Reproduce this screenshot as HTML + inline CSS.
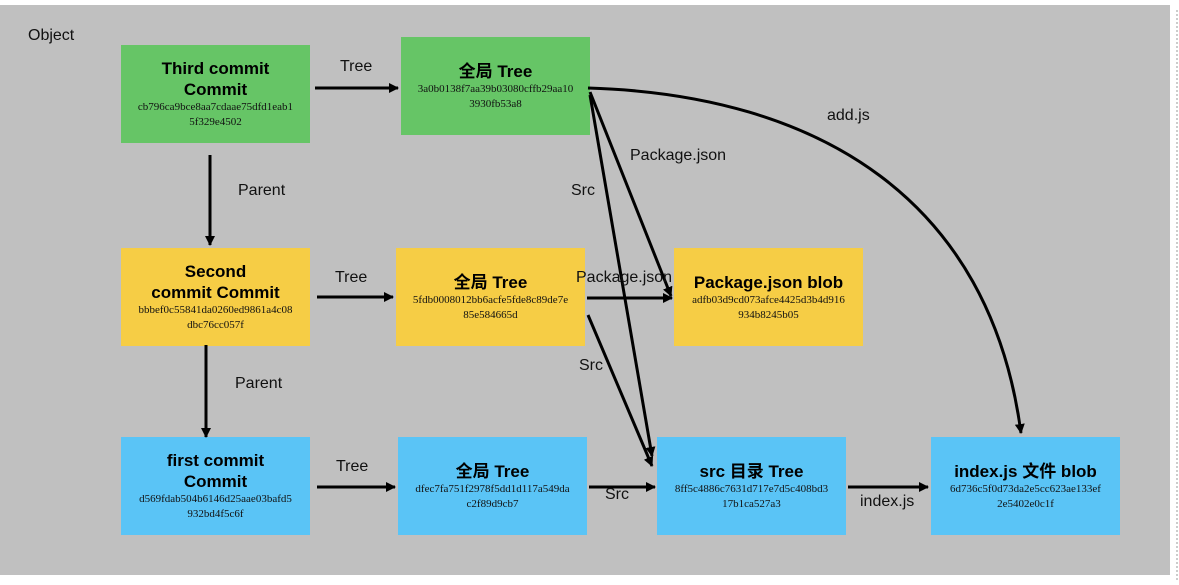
<!DOCTYPE html>
<html><head><meta charset="utf-8"><style>
body{margin:0;width:1179px;height:585px;background:#fff;position:relative;overflow:hidden;font-family:"Liberation Sans","Noto Sans CJK SC",sans-serif}
#bg{position:absolute;left:0;top:5px;width:1170px;height:570px;background:#c0c0c0}
.dots{position:absolute;left:1176px;top:10px;height:570px;border-left:2px dotted #ccc}
.b{position:absolute;width:189px;height:98px;display:flex;flex-direction:column;align-items:center;justify-content:center;text-align:center}
.b .t{font-weight:bold;font-size:17px;line-height:21px;color:#000}
.b .h{font-family:"Liberation Serif",serif;font-size:11px;line-height:15px;color:#111;padding:0 4px;word-break:break-all}
.g{background:#66c566}.y{background:#f6cd45}.c{background:#5ac4f6}
.l{position:absolute;font-size:16px;color:#111;white-space:nowrap}
svg{position:absolute;left:0;top:0}
</style></head><body>
<div id="bg"></div><div class="dots"></div>
<div class="l" style="left:28px;top:27px">Object</div>
<div class="b g" style="left:121px;top:45px"><div class="t">Third commit<br>Commit</div><div class="h">cb796ca9bce8aa7cdaae75dfd1eab1<br>5f329e4502</div></div>
<div class="b g" style="left:401px;top:37px"><div class="t">全局 Tree</div><div class="h">3a0b0138f7aa39b03080cffb29aa10<br>3930fb53a8</div></div>
<div class="b y" style="left:121px;top:248px"><div class="t">Second<br>commit Commit</div><div class="h">bbbef0c55841da0260ed9861a4c08<br>dbc76cc057f</div></div>
<div class="b y" style="left:396px;top:248px"><div class="t">全局 Tree</div><div class="h">5fdb0008012bb6acfe5fde8c89de7e<br>85e584665d</div></div>
<div class="b y" style="left:674px;top:248px"><div class="t">Package.json blob</div><div class="h">adfb03d9cd073afce4425d3b4d916<br>934b8245b05</div></div>
<div class="b c" style="left:121px;top:437px"><div class="t">first commit<br>Commit</div><div class="h">d569fdab504b6146d25aae03bafd5<br>932bd4f5c6f</div></div>
<div class="b c" style="left:398px;top:437px"><div class="t">全局 Tree</div><div class="h">dfec7fa751f2978f5dd1d117a549da<br>c2f89d9cb7</div></div>
<div class="b c" style="left:657px;top:437px"><div class="t">src 目录 Tree</div><div class="h">8ff5c4886c7631d717e7d5c408bd3<br>17b1ca527a3</div></div>
<div class="b c" style="left:931px;top:437px"><div class="t">index.js 文件 blob</div><div class="h">6d736c5f0d73da2e5cc623ae133ef<br>2e5402e0c1f</div></div>
<svg width="1179" height="585">
<defs><marker id="a" markerWidth="10" markerHeight="10" refX="9" refY="5" orient="auto" markerUnits="userSpaceOnUse"><path d="M0,0 L10,5 L0,10 z" fill="#000"/></marker></defs>
<g stroke="#000" stroke-width="3" fill="none" marker-end="url(#a)">
<line x1="315" y1="88" x2="398" y2="88"/>
<line x1="210" y1="155" x2="210" y2="245"/>
<line x1="317" y1="297" x2="393" y2="297"/>
<line x1="206" y1="345" x2="206" y2="437"/>
<line x1="317" y1="487" x2="395" y2="487"/>
<line x1="589" y1="487" x2="655" y2="487"/>
<line x1="848" y1="487" x2="928" y2="487"/>
<line x1="587" y1="298" x2="672" y2="298"/>
<line x1="588" y1="315" x2="652" y2="466"/>
<line x1="590" y1="92" x2="671" y2="296"/>
<line x1="590" y1="95" x2="652" y2="456"/>
<path d="M588,88 C820,95 990,200 1021,433"/>
</g></svg>
<div class="l" style="left:340px;top:58px">Tree</div>
<div class="l" style="left:238px;top:182px">Parent</div>
<div class="l" style="left:335px;top:269px">Tree</div>
<div class="l" style="left:235px;top:375px">Parent</div>
<div class="l" style="left:336px;top:458px">Tree</div>
<div class="l" style="left:605px;top:486px">Src</div>
<div class="l" style="left:860px;top:493px">index.js</div>
<div class="l" style="left:576px;top:269px">Package.json</div>
<div class="l" style="left:579px;top:357px">Src</div>
<div class="l" style="left:630px;top:147px">Package.json</div>
<div class="l" style="left:571px;top:182px">Src</div>
<div class="l" style="left:827px;top:107px">add.js</div>
</body></html>
